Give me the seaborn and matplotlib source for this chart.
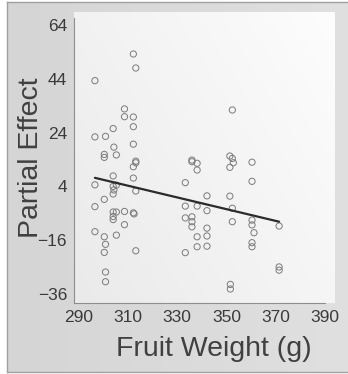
import numpy as np
import matplotlib
matplotlib.use("Agg")
import matplotlib.pyplot as plt
from matplotlib.colors import LinearSegmentedColormap
from matplotlib.ticker import FixedLocator
import pandas as pd
import seaborn as sns

# Partial residuals of fruit weight
fruit_weight = [
    296.6, 296.6, 296.6, 296.6, 296.6,
    300.4, 300.4, 300.4, 300.4, 300.4,
    300.9, 300.9, 300.9, 300.9,
    304.0, 304.0, 304.0, 304.0, 304.0, 304.0, 304.0,
    304.3, 304.3,
    305.3, 305.3, 305.3, 305.3,
    308.6, 308.6, 308.6, 308.6,
    312.2, 312.2, 312.2, 312.2, 312.2, 312.2, 312.2,
    312.5,
    313.2, 313.2, 313.2, 313.2, 313.2,
    333.3, 333.3, 333.3, 333.3,
    336.0, 336.0, 336.0, 336.0, 336.0,
    338.1, 338.1, 338.1, 338.1, 338.1,
    342.1, 342.1, 342.1, 342.1, 342.1,
    351.4, 351.4, 351.4,
    351.6, 351.6,
    352.4, 352.4, 352.4, 352.4,
    352.8,
    360.4, 360.4, 360.4, 360.4, 360.4, 360.4,
    361.2,
    371.4, 371.4, 371.4,
]
partial_effect = [
    43.3, 22.4, 4.6, -3.5, -12.8,
    15.9, 14.8, -0.8, -14.7, -20.5,
    22.6, -17.5, -27.8, -31.4,
    25.5, 7.9, 4.0, 1.2, -5.5, -7.2, -8.3,
    18.6, 2.7,
    15.7, 4.5, -5.5, -14.1,
    32.8, 29.9, -5.3, -10.2,
    53.2, 29.8, 26.2, 19.7, 11.3, 7.1, -5.8,
    -6.2,
    48.0, 13.4, 12.8, 2.3, -19.9,
    5.4, -3.3, -7.7, -20.6,
    13.8, 13.2, -7.3, -9.1, -11.0,
    12.6, 10.1, -3.3, -14.7, -18.4,
    0.5, -5.0, -11.5, -14.4, -18.2,
    15.3, 11.1, 0.4,
    -32.4, -34.1,
    32.4, 14.4, -4.1, -9.1,
    12.8,
    13.0, 5.9, -8.5, -10.3, -16.9, -18.4,
    -13.2,
    -10.7, -25.9, -27.1,
]

# Fitted partial effect line
fit_weight = [296.6, 371.4]
fit_effect = [7.2, -9.1]

x_ticks = [290, 310, 330, 350, 370, 390]
y_ticks = [-36, -16, 4, 24, 44, 64]

points = pd.DataFrame({"weight": fruit_weight, "effect": partial_effect})
fit = pd.DataFrame({"weight": fit_weight, "effect": fit_effect})

sns.set_style("white")
plt.rcParams["font.family"] = ["Liberation Sans", "DejaVu Sans"]

W, H = 348, 374
fig = plt.figure(figsize=(W / 100, H / 100), dpi=100)
fig.patch.set_facecolor("white")

# Grey outer frame with a soft horizontal gradient
frame = fig.add_axes([7 / W, 2 / H, (W - 7) / W, 370 / H], zorder=0)
frame_cmap = LinearSegmentedColormap.from_list("frame", ["#d5d5d5", "#e0e0e0"])
frame.imshow(np.linspace(0, 1, 256).reshape(1, -1), cmap=frame_cmap,
             aspect="auto", extent=[0, 1, 0, 1])
frame.set_xlim(0, 1)
frame.set_ylim(0, 1)
frame.set_xticks([])
frame.set_yticks([])
for side, sp in frame.spines.items():
    sp.set_color("#a0a0a0")
    sp.set_linewidth(1.0)
frame.spines["right"].set_visible(False)

# Plot panel
ax = fig.add_axes([74 / W, 1 - 303 / H, (335 - 74) / W, (303 - 12) / H], zorder=1)
gx, gy = np.meshgrid(np.linspace(0, 1, 200), np.linspace(0, 1, 200))
panel_cmap = LinearSegmentedColormap.from_list("panel", ["#eaeaea", "#fdfdfd"])
ax.imshow((gx * 0.6 + gy * 0.4), cmap=panel_cmap, origin="lower", aspect="auto",
          extent=[0, 1, 0, 1], transform=ax.transAxes, zorder=0)

sns.scatterplot(data=points, x="weight", y="effect", ax=ax, marker="o", s=20,
                facecolors="none", edgecolor="#7a7a7a", linewidth=0.7, zorder=3)
sns.lineplot(data=fit, x="weight", y="effect", ax=ax, color="#2b2b2b",
             linewidth=1.6, zorder=4)

ax.set_xlim(288.1, 394.1)
ax.set_ylim(-39.3, 68.8)

ax.xaxis.set_major_locator(FixedLocator(x_ticks))
ax.xaxis.set_minor_locator(FixedLocator(np.arange(290, 391, 5)))
ax.yaxis.set_major_locator(FixedLocator(y_ticks))
ax.yaxis.set_minor_locator(FixedLocator(np.arange(-36, 65, 4)))

for side in ("top", "right"):
    ax.spines[side].set_visible(False)
for side in ("left", "bottom"):
    ax.spines[side].set_color("#8e8e8e")
    ax.spines[side].set_linewidth(0.8)
ax.spines["bottom"].set_bounds(288.1, 390)
ax.spines["left"].set_bounds(-39.3, 66.5)

tick_color = "#8e8e8e"
label_color = "#3a3a3a"
ax.tick_params(axis="x", which="major", direction="in", length=5, width=0.8,
               color=tick_color, pad=5, labelsize=12.5, labelcolor=label_color)
ax.tick_params(axis="x", which="minor", direction="in", length=2.5, width=0.7,
               color=tick_color)
ax.tick_params(axis="y", which="major", direction="out", length=4, width=0.8,
               color=tick_color, pad=1, labelsize=12.5, labelcolor=label_color)
ax.tick_params(axis="y", which="minor", direction="in", length=2.5, width=0.7,
               color=tick_color)

ax.set_xlabel("Fruit Weight (g)", fontsize=20.5, color="#404040")
ax.set_ylabel("Partial Effect", fontsize=20.5, color="#404040")
ax.xaxis.set_label_coords(0.536, -0.115)
ax.yaxis.set_label_coords(-0.115, 0.5)

fig.savefig("out.png", dpi=100)
